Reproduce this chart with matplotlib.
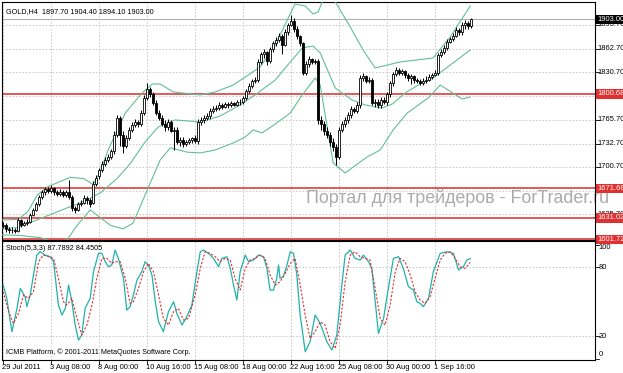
import matplotlib
matplotlib.use("Agg")
import matplotlib.pyplot as plt
import numpy as np

# ---------------- data ----------------
opens = [1620,1622,1616,1614,1615,1613,1628,1622,1624,1626,1635,1642,1650,1660,1666,1670,1668,1672,1666,1664,
         1667,1663,1666,1660,1645,1642,1650,1652,1658,1655,1652,1678,1688,1697,1705,1710,1715,1722,1745,1768,
         1745,1730,1740,1752,1758,1762,1760,1775,1795,1808,1800,1788,1775,1768,1760,1755,1762,1750,1752,1735,
         1738,1732,1735,1737,1740,1736,1762,1765,1768,1770,1778,1780,1782,1785,1783,1787,1785,1788,1786,1789,
         1790,1795,1805,1812,1818,1820,1845,1855,1858,1846,1862,1870,1875,1880,1868,1885,1895,1900,1890,1880,
         1870,1830,1842,1848,1845,1846,1765,1760,1750,1745,1735,1728,1715,1752,1760,1765,1772,1780,1778,1785,
         1822,1825,1818,1820,1788,1790,1785,1793,1790,1800,1815,1828,1833,1830,1832,1826,1822,1825,1820,1818,
         1816,1818,1820,1824,1826,1830,1854,1858,1864,1872,1876,1880,1888,1885,1895,1898,1893]
closes = [1622,1616,1614,1615,1613,1628,1622,1624,1626,1635,1642,1650,1660,1666,1670,1668,1672,1666,1664,1667,
          1663,1666,1660,1645,1642,1650,1652,1658,1655,1650,1678,1686,1697,1705,1710,1715,1722,1745,1768,1745,
          1730,1740,1752,1758,1762,1760,1775,1795,1808,1800,1788,1775,1768,1760,1755,1762,1750,1752,1735,1738,
          1732,1735,1737,1740,1736,1762,1765,1768,1770,1778,1780,1782,1785,1783,1787,1785,1788,1786,1789,1790,
          1795,1805,1812,1818,1820,1845,1855,1858,1846,1862,1870,1875,1880,1868,1885,1895,1900,1890,1880,1870,
          1830,1842,1848,1845,1846,1765,1760,1750,1745,1735,1728,1715,1752,1760,1765,1772,1780,1778,1785,1822,
          1825,1818,1820,1788,1790,1785,1793,1790,1800,1815,1828,1833,1830,1832,1826,1822,1825,1820,1818,1816,
          1818,1820,1824,1826,1830,1854,1858,1864,1872,1876,1880,1888,1885,1895,1898,1893,1903]
highs = [1625,1624,1618,1618,1617,1631,1630,1627,1630,1638,1645,1653,1663,1669,1674,1673,1676,1674,1669,1670,
         1669,1669,1683,1662,1648,1653,1656,1663,1661,1658,1681,1690,1700,1709,1714,1719,1726,1750,1772,1770,
         1750,1745,1756,1762,1766,1765,1779,1799,1815,1810,1803,1792,1779,1772,1765,1766,1765,1756,1755,1742,
         1742,1738,1740,1742,1744,1767,1769,1772,1775,1782,1784,1786,1789,1788,1790,1789,1791,1790,1792,1794,
         1798,1808,1815,1821,1824,1849,1858,1862,1860,1865,1873,1878,1884,1883,1889,1898,1909,1904,1893,1882,
         1872,1846,1852,1850,1849,1848,1770,1763,1755,1748,1740,1732,1756,1764,1769,1776,1784,1783,1789,1826,
         1829,1827,1824,1822,1794,1794,1797,1796,1803,1818,1831,1837,1836,1835,1834,1829,1828,1827,1823,1821,
         1822,1825,1828,1830,1833,1857,1862,1868,1876,1879,1884,1892,1891,1899,1902,1900,1905]
lows = [1617,1612,1611,1611,1610,1612,1619,1620,1622,1624,1633,1640,1648,1657,1663,1665,1665,1663,1661,1661,
        1660,1660,1657,1641,1638,1640,1647,1650,1650,1646,1650,1675,1684,1694,1702,1707,1712,1719,1742,1730,
        1720,1727,1737,1749,1755,1756,1757,1772,1792,1797,1785,1772,1765,1757,1750,1752,1748,1724,1732,1730,
        1728,1729,1732,1734,1733,1732,1758,1761,1765,1767,1775,1777,1779,1780,1781,1782,1783,1784,1784,1786,
        1787,1792,1802,1809,1815,1817,1841,1850,1840,1843,1858,1866,1872,1856,1866,1882,1893,1886,1876,1866,
        1826,1826,1838,1841,1842,1760,1752,1745,1740,1730,1722,1703,1712,1748,1756,1761,1768,1774,1774,1782,
        1818,1815,1815,1785,1783,1781,1782,1787,1786,1796,1812,1825,1826,1827,1822,1818,1814,1816,1815,1813,
        1813,1815,1818,1821,1825,1827,1851,1855,1861,1870,1873,1878,1881,1882,1890,1890,1891]

# Bollinger bands (bar index, price)
upper_x = [-1, 5.0, 8.3, 11.3, 15.0, 19.7, 22.3, 26.7, 30.0, 32.3, 35.0, 40.7, 46.3, 49.7, 52.3, 56.7, 65.7,
           70.7, 76.7, 85.7, 90.7, 94.7, 97.3, 100.7, 103.3, 105.0, 107.3, 110.0, 115.7, 120.0, 124.0, 132.3,
           143.3, 149.0, 155.7]
upper_y = [1628.0, 1629.0, 1640.0, 1662.0, 1674.0, 1682.0, 1686.6, 1685.0, 1677.0, 1693.9, 1724.0, 1774.6,
           1802.0, 1814.3, 1814.3, 1803.4, 1799.3, 1803.4, 1812.9, 1837.6, 1867.7, 1901.9, 1923.7, 1921.0,
           1910.1, 1912.8, 1936.1, 1931.9, 1892.3, 1860.8, 1836.2, 1844.4, 1849.9, 1878.6, 1921.0]
middle_x = [-1, 4.6, 12.3, 21.3, 26.0, 32.3, 38.0, 42.3, 47.3, 51.7, 57.3, 65.7, 72.3, 79.0, 84.0, 90.7, 95.7,
            99.7, 103.3, 105.7, 110.7, 116.3, 120.7, 126.3, 129.7, 134.0, 139.0, 143.3, 155.7]
middle_y = [1617.0, 1617.5, 1630.0, 1644.7, 1652.0, 1665.0, 1685.0, 1705.0, 1735.0, 1755.5, 1765.1, 1762.3,
            1770.5, 1785.6, 1799.3, 1819.8, 1844.4, 1863.6, 1866.3, 1856.7, 1808.8, 1792.4, 1785.6, 1781.5,
            1786.9, 1802.0, 1814.3, 1822.5, 1860.8]
lower_x = [-1, 5.7, 12.3, 17.0, 21.3, 24.5, 29.0, 35.7, 40.0, 43.3, 48.0, 52.3, 55.7, 61.3, 65.7, 70.7, 76.7,
           80.7, 83.3, 86.3, 90.7, 95.7, 99.7, 104.0, 105.7, 110.0, 114.0, 121.3, 125.7, 130.0, 134.7, 141.7,
           145.7, 148.3, 153.0, 155.7]
lower_y = [1608.0, 1607.0, 1604.0, 1598.0, 1601.0, 1620.0, 1642.0, 1621.0, 1616.0, 1624.0, 1669.0, 1710.0,
           1727.0, 1721.0, 1720.0, 1724.0, 1733.6, 1741.8, 1751.4, 1747.3, 1759.6, 1774.6, 1799.3, 1822.5,
           1812.9, 1706.2, 1692.6, 1714.4, 1724.0, 1751.4, 1774.6, 1795.2, 1812.9, 1806.1, 1793.8, 1796.5]

# Stochastic (5,3,3)
stoch_main_x = [0, 1.2, 2.9, 4.6, 5.7, 7.3, 7.9, 9.0, 10.1, 11.2, 12.3, 14.0, 15.7, 16.8, 18.4, 19.6, 20.7, 21.8,
                22.9, 24.0, 25.1, 26.2, 27.3, 29.0, 30.1, 31.8, 32.9, 34.0, 35.1, 36.2, 37.3, 38.4, 40.1, 41.2,
                42.3, 43.4, 44.6, 46.2, 47.3, 48.4, 49.6, 50.7, 51.8, 53.4, 55.1, 56.8, 57.9, 59.6, 61.2, 62.9,
                64.6, 65.7, 66.8, 68.4, 70.1, 71.8, 72.9, 74.6, 75.7, 76.8, 77.9, 79.0, 80.7, 81.8, 83.4, 85.1,
                86.8, 87.9, 89.0, 90.1, 91.2, 91.8, 92.3, 93.4, 94.6, 95.7, 96.8, 97.9, 99.0, 100.7, 102.3, 104.0,
                105.7, 107.9, 109.6, 111.2, 112.9, 114.0, 115.7, 117.3, 119.0, 120.1, 121.8, 122.9, 125.1, 126.8,
                128.4, 130.1, 131.8, 133.4, 135.1, 136.8, 137.9, 139.0, 140.1, 141.8, 143.4, 145.7, 147.9, 150.1,
                151.8, 153.4, 154.6, 155.7]
stoch_main_y = [64.6, 53.0, 23.8, 44.2, 61.7, 54.4, 45.7, 55.9, 73.4, 90.9, 93.8, 90.9, 89.4, 85.1, 47.1, 38.4,
                44.2, 64.6, 50.0, 29.6, 16.5, 20.8, 44.2, 53.0, 76.3, 92.4, 92.4, 85.1, 80.7, 82.1, 95.3, 88.0,
                70.5, 42.7, 45.7, 55.9, 69.0, 76.3, 85.1, 82.1, 73.4, 50.0, 32.5, 23.8, 41.3, 50.0, 39.8, 29.6,
                36.9, 47.1, 76.3, 93.8, 95.3, 92.4, 88.0, 80.7, 88.0, 89.4, 79.2, 64.6, 51.5, 76.3, 90.9, 85.1,
                86.5, 90.9, 89.4, 79.2, 60.2, 60.2, 70.5, 82.1, 70.5, 72.0, 82.1, 93.8, 92.4, 73.4, 38.4, 6.2,
                15.0, 38.4, 31.0, 15.0, 7.7, 20.8, 64.6, 90.9, 95.3, 88.0, 86.5, 90.9, 85.1, 79.2, 22.3, 35.4,
                61.7, 88.0, 89.4, 79.2, 63.2, 60.2, 50.0, 48.6, 45.7, 53.0, 76.3, 92.4, 93.8, 92.4, 77.8, 80.7,
                86.5, 87.8]
stoch_sig_x = [0, 1.8, 3.4, 5.1, 6.8, 8.4, 10.1, 11.8, 13.4, 15.1, 16.8, 18.4, 20.1, 21.2, 22.9, 24.0, 26.2,
               27.9, 29.6, 31.2, 32.9, 34.6, 36.2, 37.3, 39.0, 40.7, 42.3, 43.4, 45.1, 46.8, 48.4, 50.1, 51.8,
               53.4, 55.1, 56.8, 58.4, 60.1, 61.8, 64.0, 65.7, 67.3, 69.0, 70.7, 72.3, 74.0, 75.7, 77.3, 79.0,
               80.7, 82.3, 84.0, 85.7, 87.3, 89.0, 90.7, 92.3, 94.0, 95.7, 97.3, 99.0, 100.7, 102.3, 104.0,
               105.7, 107.3, 109.0, 110.7, 112.3, 114.0, 115.7, 117.3, 119.0, 120.7, 122.3, 124.0, 125.7, 127.3,
               129.0, 130.7, 132.3, 134.0, 135.7, 137.3, 139.0, 140.7, 142.3, 144.0, 145.7, 147.3, 149.0, 150.7,
               152.3, 154.0, 155.7]
stoch_sig_y = [58.8, 41.3, 31.0, 39.8, 55.9, 53.0, 58.8, 85.1, 90.9, 89.4, 88.0, 70.5, 50.0, 47.1, 53.0, 41.3,
               20.8, 29.6, 47.1, 70.5, 88.0, 88.0, 83.6, 85.1, 85.1, 70.5, 48.6, 50.0, 61.7, 76.3, 83.6, 76.3,
               55.9, 35.4, 29.6, 41.3, 44.2, 33.9, 35.4, 55.9, 79.2, 93.8, 92.4, 89.4, 85.1, 88.0, 86.5, 70.5,
               60.2, 79.2, 86.5, 88.0, 90.9, 88.0, 73.4, 64.6, 67.5, 74.8, 83.6, 88.0, 65.0, 38.0, 18.0, 23.8,
               32.5, 29.6, 15.0, 9.2, 29.6, 67.5, 90.9, 93.8, 89.4, 88.0, 86.5, 61.7, 35.4, 29.6, 47.1, 76.3,
               88.0, 85.1, 73.4, 58.8, 51.5, 48.6, 54.4, 70.5, 86.5, 92.4, 93.8, 88.0, 80.7, 79.2, 84.5]

hlines = [1800.68, 1671.68, 1631.02, 1601.72]
hline_labels = ["1800.68", "1671.68", "1631.02", "1601.72"]
price_ticks = [1895.70, 1862.70, 1830.70, 1797.70, 1765.70, 1732.70, 1700.70, 1667.70, 1635.70]
# labels visible in the picture (1797.70 and 1667.70 are hidden behind the red line boxes)
price_label_vals = [1895.70, 1862.70, 1830.70, 1765.70, 1732.70, 1700.70, 1635.70]
price_label_text = ["1895.70", "1862.70", "1830.70", "1765.70", "1732.70", "1700.70", "1635.70"]
last_price = 1903.00
date_tick_bars = [0, 16, 32, 48, 64, 80, 96, 112, 128, 144]
date_tick_labels = ["29 Jul 2011", "3 Aug 08:00", "8 Aug 00:00", "10 Aug 16:00", "15 Aug 08:00",
                    "18 Aug 00:00", "22 Aug 16:00", "25 Aug 08:00", "30 Aug 00:00", "1 Sep 16:00"]
stoch_levels = [80, 20]
stoch_tick_vals = [100, 80, 20, 0]

# ---------------- drawing ----------------
W, H = 623, 373
fig = plt.figure(figsize=(W / 100, H / 100), dpi=100)
fig.patch.set_facecolor("white")
FONT = ["Liberation Sans Narrow", "Liberation Sans", "DejaVu Sans"]
plt.rcParams["font.family"] = FONT


def frac(x0, y0, x1, y1):
    return [x0 / W, 1 - y1 / H, (x1 - x0) / W, (y1 - y0) / H]


ax = fig.add_axes(frac(2, 2, 595, 240))
ax2 = fig.add_axes(frac(2, 241, 595, 360))
XMIN, XMAX = -0.4, 197.3
for a in (ax, ax2):
    a.set_xlim(XMIN, XMAX)
    a.set_xticks([])
    a.set_yticks([])
    for s in a.spines.values():
        s.set_color("black")
        s.set_linewidth(0.8)
ax.set_ylim(1600.8, 1926.5)
ax2.set_ylim(-1.0, 103.2)

grid_kw = dict(color="#c4c4c4", lw=0.6, ls=(0, (2, 2)), zorder=0)
for b in date_tick_bars:
    ax.axvline(b, **grid_kw)
    ax2.axvline(b, **grid_kw)
for p in price_ticks:
    ax.axhline(p, **grid_kw)
for v in stoch_levels:
    ax2.axhline(v, **grid_kw)

# watermark
ax.text(0.512, 0.178, "Портал для трейдеров - ForTrader.ru", transform=ax.transAxes,
        fontsize=12.9, color="#ababab", family=["Liberation Sans", "DejaVu Sans"], ha="left", va="center",
        zorder=1, clip_on=False)

# horizontal lines
ax.axhline(last_price, color="#b0b0b0", lw=0.8, zorder=2)
for p in hlines:
    ax.axhline(p, color="#e03c3c", lw=1.2, zorder=2)

# bands
band_c = "#62bf96"
ax.plot(upper_x, upper_y, color=band_c, lw=0.8, zorder=3)
ax.plot(middle_x, middle_y, color=band_c, lw=0.8, zorder=3)
ax.plot(lower_x, lower_y, color=band_c, lw=0.8, zorder=3)

# candles
o = np.array(opens, float); c = np.array(closes, float)
h = np.array(highs, float); l = np.array(lows, float)
x = np.arange(len(c))
h = np.maximum(h, np.maximum(o, c)); l = np.minimum(l, np.minimum(o, c))
ax.vlines(x, l, h, color="black", lw=0.7, zorder=4)
bot = np.minimum(o, c)
hei = np.maximum(np.abs(c - o), 0.6)
up = c >= o
ax.bar(x[up], hei[up], bottom=bot[up], width=0.62, color="white", edgecolor="black", lw=0.6, zorder=5)
ax.bar(x[~up], hei[~up], bottom=bot[~up], width=0.62, color="black", edgecolor="black", lw=0.6, zorder=5)

# stochastic
ax2.plot(stoch_main_x, stoch_main_y, color="#20b2aa", lw=0.9, zorder=3)
ax2.plot(stoch_sig_x, stoch_sig_y, color="#e03030", lw=0.8, ls=(0, (2, 1.5)), zorder=3)

# texts
tk = dict(fontsize=5.4, color="black")
ax.text(0.006, 0.975, "GOLD,H4  1897.70 1904.40 1894.10 1903.00", transform=ax.transAxes,
        ha="left", va="top", fontsize=5.2, color="black")
ax2.text(0.006, 0.965, "Stoch(5,3,3) 87.7892 84.4505", transform=ax2.transAxes, ha="left", va="top",
         fontsize=5.2, color="black")
ax2.text(0.006, 0.035, "ICMB Platform, © 2001-2011 MetaQuotes Software Corp.", transform=ax2.transAxes,
         ha="left", va="bottom", fontsize=5.2, color="black")

# right price labels
ytr = ax.get_yaxis_transform()
for p in price_ticks:
    ax.plot([1.0, 1.006], [p, p], transform=ytr, color="black", lw=0.6, clip_on=False)
for p, s in zip(price_label_vals, price_label_text):
    ax.text(1.004, p, s, transform=ytr, ha="left", va="center", clip_on=False, **tk)
for p, s in zip(hlines, hline_labels):
    ax.text(1.004, p, s, transform=ytr, ha="left", va="center", clip_on=False, fontsize=5.4,
            color="white", zorder=10,
            bbox=dict(boxstyle="square,pad=0.15", fc="#e03030", ec="none"))
ax.text(1.004, last_price, "1903.00", transform=ytr, ha="left", va="center", clip_on=False, fontsize=5.4,
        color="white", zorder=10, bbox=dict(boxstyle="square,pad=0.15", fc="black", ec="none"))

ytr2 = ax2.get_yaxis_transform()
for v in stoch_tick_vals:
    vv = min(max(v, 3.5), 97.5)
    ax2.text(1.006, vv, str(v), transform=ytr2, ha="left", va="center", clip_on=False, **tk)
    ax2.plot([1.0, 1.006], [v, v], transform=ytr2, color="black", lw=0.6, clip_on=False)

# date labels
xtr = ax2.get_xaxis_transform()
for b, s in zip(date_tick_bars, date_tick_labels):
    ax2.text(b - 0.5, -0.03, s, transform=xtr, ha="left", va="top", clip_on=False, **tk)
    ax2.plot([b, b], [0, -0.03], transform=xtr, color="black", lw=0.6, clip_on=False)

fig.savefig("out.png", dpi=100)
